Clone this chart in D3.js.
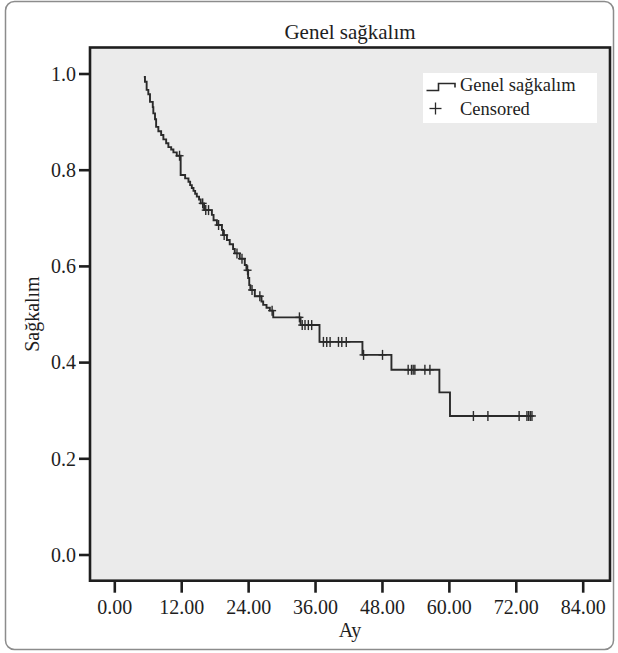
<!DOCTYPE html>
<html>
<head>
<meta charset="utf-8">
<script src="https://cdn.jsdelivr.net/npm/d3@7"></script>
<style>
  html, body { margin: 0; padding: 0; background: #ffffff; }
  svg { display: block; }
  text { font-family: "Liberation Serif", "Times New Roman", serif; fill: #1e1e1e; }
</style>
</head>
<body>
<svg id="chart" width="618" height="653"></svg>
<script>
// Kaplan–Meier steps: time of each drop (months) and survival after it
const eventTimes = [5.3, 5.5, 5.8, 6.1, 6.4, 6.9, 7.0, 7.3, 7.5, 7.9, 8.4, 8.8, 9.3, 9.7, 10.2, 10.6, 11.2, 11.9,
  12.7, 13.3, 13.6, 13.9, 14.2, 14.5, 14.8, 15.2, 15.5, 16.1, 17.5, 17.8, 18.4, 19.3, 19.5, 20.2, 20.7, 21.3, 21.6,
  22.5, 23.4, 23.7, 24.0, 24.2, 24.4, 25.2, 26.4, 26.7, 27.3, 27.9, 28.5, 33.4, 36.8, 44.5, 49.7, 58.3, 60.2];
const survival = [0.993, 0.983, 0.966, 0.957, 0.941, 0.930, 0.917, 0.905, 0.889, 0.880, 0.872, 0.863, 0.855, 0.847, 0.842, 0.836, 0.829, 0.789,
  0.782, 0.775, 0.768, 0.762, 0.756, 0.750, 0.744, 0.738, 0.730, 0.716, 0.706, 0.695, 0.685, 0.675, 0.664, 0.654, 0.645, 0.635, 0.626,
  0.615, 0.602, 0.591, 0.575, 0.560, 0.550, 0.537, 0.526, 0.519, 0.513, 0.507, 0.493, 0.477, 0.442, 0.415, 0.384, 0.337, 0.288];
// Censored follow-up times (months)
const censorTimes = [11.7, 15.85, 16.4, 16.9, 18.7, 19.7, 22.0, 22.9, 23.9, 24.7, 26.1, 28.3, 33.2, 33.7, 34.2, 34.8, 35.4,
  37.5, 38.1, 38.7, 40.2, 40.8, 41.6, 44.7, 48.1, 52.7, 53.3, 53.6, 53.9, 55.7, 56.6, 64.4, 67.0, 72.6, 74.0, 74.3, 74.6, 74.9];

const xTicks = [0, 12, 24, 36, 48, 60, 72, 84];
const yTicks = [0, 0.2, 0.4, 0.6, 0.8, 1.0];

const titleText = "Genel sağkalım";
const xTitle = "Ay";
const yTitle = "Sağkalım";
const legendLabels = ["Genel sağkalım", "Censored"];

const svg = d3.select("#chart");
const W = 618, H = 653;
const plot = { left: 90, right: 610, top: 47.5, bottom: 580.7 };

const x = d3.scaleLinear().domain([0, 84]).range([114.3, 582.7]);
const y = d3.scaleLinear().domain([0, 1]).range([554.5, 73.5]);

// outer rounded border
svg.append("rect")
  .attr("x", 5.5).attr("y", 1.5).attr("width", 608).attr("height", 648)
  .attr("rx", 9).attr("fill", "#ffffff").attr("stroke", "#8c8c8c").attr("stroke-width", 1.5);

// title
svg.append("text")
  .attr("x", (plot.left + plot.right) / 2).attr("y", 39)
  .attr("text-anchor", "middle").attr("font-size", 21)
  .text(titleText);

// plot panel
svg.append("rect")
  .attr("x", plot.left).attr("y", plot.top)
  .attr("width", plot.right - plot.left).attr("height", plot.bottom - plot.top)
  .attr("fill", "#ebebeb");

// axes
const xAxis = svg.append("g")
  .attr("transform", `translate(0,${plot.bottom})`)
  .call(d3.axisBottom(x).tickValues(xTicks).tickSize(12).tickPadding(6).tickFormat(d3.format(".2f")));
const yAxis = svg.append("g")
  .attr("transform", `translate(${plot.left},0)`)
  .call(d3.axisLeft(y).tickValues(yTicks).tickSize(11).tickPadding(3).tickFormat(d3.format(".1f")));
[xAxis, yAxis].forEach(g => {
  g.select(".domain").remove();
  g.selectAll(".tick line").attr("stroke", "#1e1e1e").attr("stroke-width", 2.6);
  g.selectAll(".tick text").attr("font-size", 20).attr("font-family", "Liberation Serif").attr("fill", "#1e1e1e");
});
xAxis.selectAll(".tick text").attr("dy", "0.75em");
yAxis.selectAll(".tick text").attr("dy", "0.34em");

// survival step curve
const steps = eventTimes.map((t, i) => [t, survival[i]]);
const lastTime = d3.max(censorTimes);
steps.push([lastTime, survival[survival.length - 1]]);
const line = d3.line().x(d => x(d[0])).y(d => y(d[1])).curve(d3.curveStepAfter);
svg.append("path")
  .datum(steps)
  .attr("d", line)
  .attr("fill", "none").attr("stroke", "#2a2a2a").attr("stroke-width", 1.9);

// censor marks sit on the curve at their time
function survAt(t) {
  let s = 1;
  for (let i = 0; i < eventTimes.length; i++) { if (eventTimes[i] <= t) s = survival[i]; }
  return s;
}
const cg = svg.append("g").attr("stroke", "#2a2a2a").attr("stroke-width", 1.4);
censorTimes.forEach(t => {
  const cx = x(t), cy = y(survAt(t));
  cg.append("line").attr("x1", cx - 4).attr("x2", cx + 4).attr("y1", cy).attr("y2", cy);
  cg.append("line").attr("x1", cx).attr("x2", cx).attr("y1", cy - 5).attr("y2", cy + 5);
});

// frame
svg.append("rect")
  .attr("x", plot.left).attr("y", plot.top)
  .attr("width", plot.right - plot.left).attr("height", plot.bottom - plot.top)
  .attr("fill", "none").attr("stroke", "#1e1e1e").attr("stroke-width", 2.6);

// axis titles
svg.append("text")
  .attr("x", (plot.left + plot.right) / 2).attr("y", 637)
  .attr("text-anchor", "middle").attr("font-size", 20)
  .text(xTitle);
svg.append("text")
  .attr("transform", `translate(39,${(plot.top + plot.bottom) / 2}) rotate(-90)`)
  .attr("text-anchor", "middle").attr("font-size", 20)
  .text(yTitle);

// legend
const lg = svg.append("g");
lg.append("rect").attr("x", 423).attr("y", 73).attr("width", 174).attr("height", 50).attr("fill", "#ffffff");
lg.append("path")
  .attr("d", "M426.5,90.5 H438.5 V83.5 H455 V87.5")
  .attr("fill", "none").attr("stroke", "#2a2a2a").attr("stroke-width", 1.6);
lg.append("text").attr("x", 460).attr("y", 91).attr("font-size", 18.5).text(legendLabels[0]);
lg.append("line").attr("x1", 429.5).attr("x2", 441.5).attr("y1", 108.5).attr("y2", 108.5).attr("stroke", "#2a2a2a").attr("stroke-width", 1.3);
lg.append("line").attr("x1", 435.5).attr("x2", 435.5).attr("y1", 102.5).attr("y2", 114.5).attr("stroke", "#2a2a2a").attr("stroke-width", 1.3);
lg.append("text").attr("x", 460).attr("y", 115).attr("font-size", 18.5).text(legendLabels[1]);
</script>
</body>
</html>
